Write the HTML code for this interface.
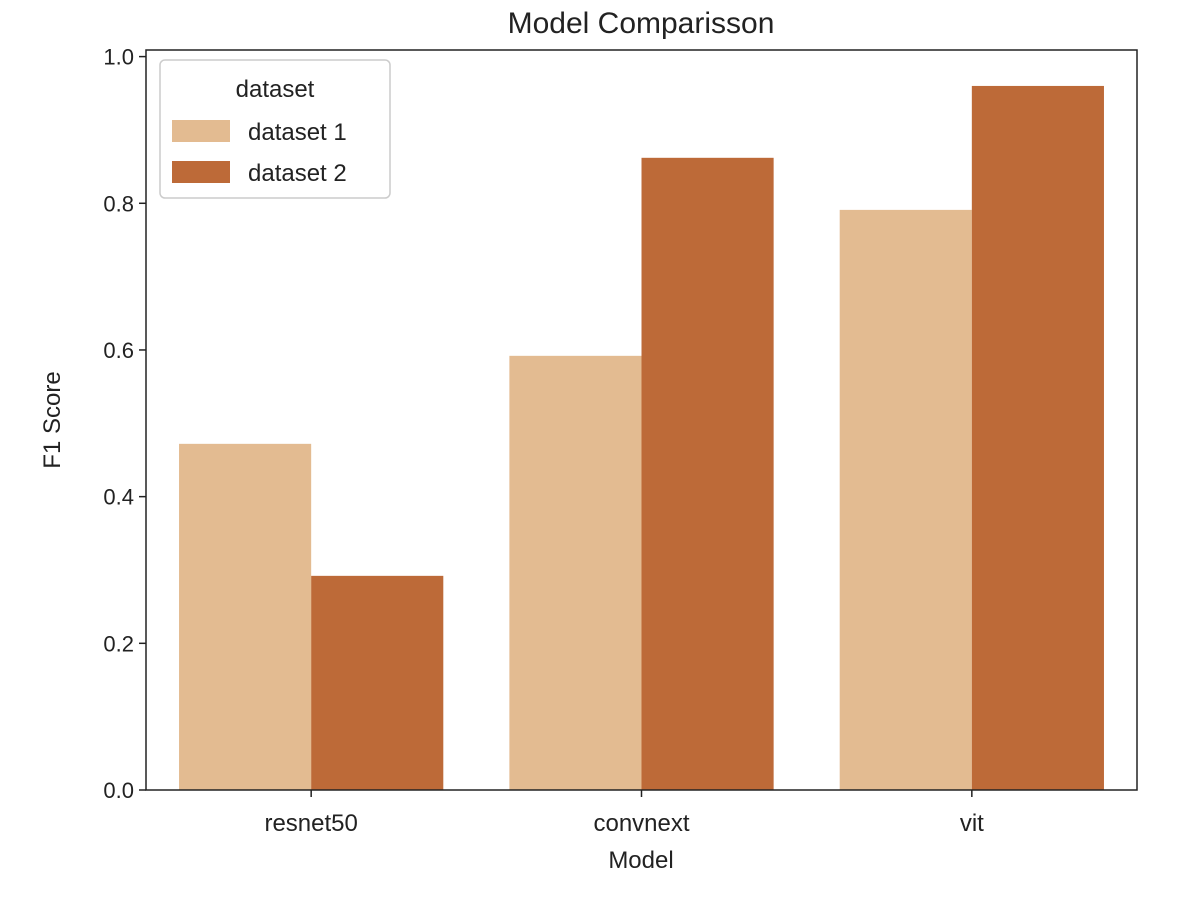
<!DOCTYPE html>
<html><head><meta charset="utf-8"><style>
body{margin:0;background:#fff;}
svg text{font-family:"Liberation Sans","DejaVu Sans",sans-serif;fill:#222;}
</style></head><body>
<svg id="chart" width="1178" height="894" xmlns="http://www.w3.org/2000/svg">
<rect width="1178" height="894" fill="#fff"/>
<g id="bars"></g>
<g id="yticks"></g>
<g id="xticks"></g>
<rect x="146" y="50" width="991" height="740" fill="none" stroke="#222" stroke-width="1.5"/>
<text x="641" y="33" font-size="30" text-anchor="middle">Model Comparisson</text>
<text x="641" y="868" font-size="24" text-anchor="middle">Model</text>
<text x="60" y="420" font-size="24" text-anchor="middle" transform="rotate(-90 60 420)">F1 Score</text>
<g>
<rect x="160" y="60" width="230" height="138" rx="5" fill="#fff" fill-opacity="0.8" stroke="#ccc" stroke-width="1.5"/>
<text x="275" y="97" font-size="24" text-anchor="middle">dataset</text>
<rect x="172" y="120" width="58" height="22" fill="#e3bb91"/>
<text x="248" y="140" font-size="24">dataset 1</text>
<rect x="172" y="161" width="58" height="22" fill="#bd6a38"/>
<text x="248" y="181" font-size="24">dataset 2</text>
</g>
</svg>
<script>
const categories = ["resnet50", "convnext", "vit"];
const dataset1 = [0.472, 0.592, 0.791];
const dataset2 = [0.292, 0.862, 0.960];
const yTicks = [0.0, 0.2, 0.4, 0.6, 0.8, 1.0];
const yTickLabels = ["0.0", "0.2", "0.4", "0.6", "0.8", "1.0"];
const NS = "http://www.w3.org/2000/svg";
const L=146, R=1137, T=50, B=790, YMAX=1.009;
const y = v => B - v/YMAX*(B-T);
const band = (R-L)/categories.length;
const xc = i => L + band*(i+0.5);
const bw = band*0.4;
const gb = document.getElementById("bars");
function mk(t,a){const e=document.createElementNS(NS,t);for(const k in a)e.setAttribute(k,a[k]);return e;}
[[dataset1,"#e3bb91",-1],[dataset2,"#bd6a38",0]].forEach(([vals,col,off],s)=>{
 vals.forEach((v,i)=>{
  const r=mk("rect",{x:xc(i)+off*bw,y:y(v),width:bw,height:B-y(v),fill:col});
  
  
  gb.appendChild(r);
 });
});
const gy=document.getElementById("yticks");
yTicks.forEach((v,i)=>{
 const l=mk("line",{x1:L-7,x2:L,y1:y(v),y2:y(v),stroke:"#222","stroke-width":1.5});
 
 
 gy.appendChild(l);
 const t=mk("text",{x:L-12,y:y(v)+8,"font-size":22,"text-anchor":"end"});
 t.textContent=yTickLabels[i];
 
 
 gy.appendChild(t);
});
const gx=document.getElementById("xticks");
categories.forEach((c,i)=>{
 const l=mk("line",{x1:xc(i),x2:xc(i),y1:B,y2:B+7,stroke:"#222","stroke-width":1.5});
 
 
 gx.appendChild(l);
 const t=mk("text",{x:xc(i),y:B+41,"font-size":24,"text-anchor":"middle"});
 t.textContent=c;
 
 
 gx.appendChild(t);
});
</script>
</body></html>
